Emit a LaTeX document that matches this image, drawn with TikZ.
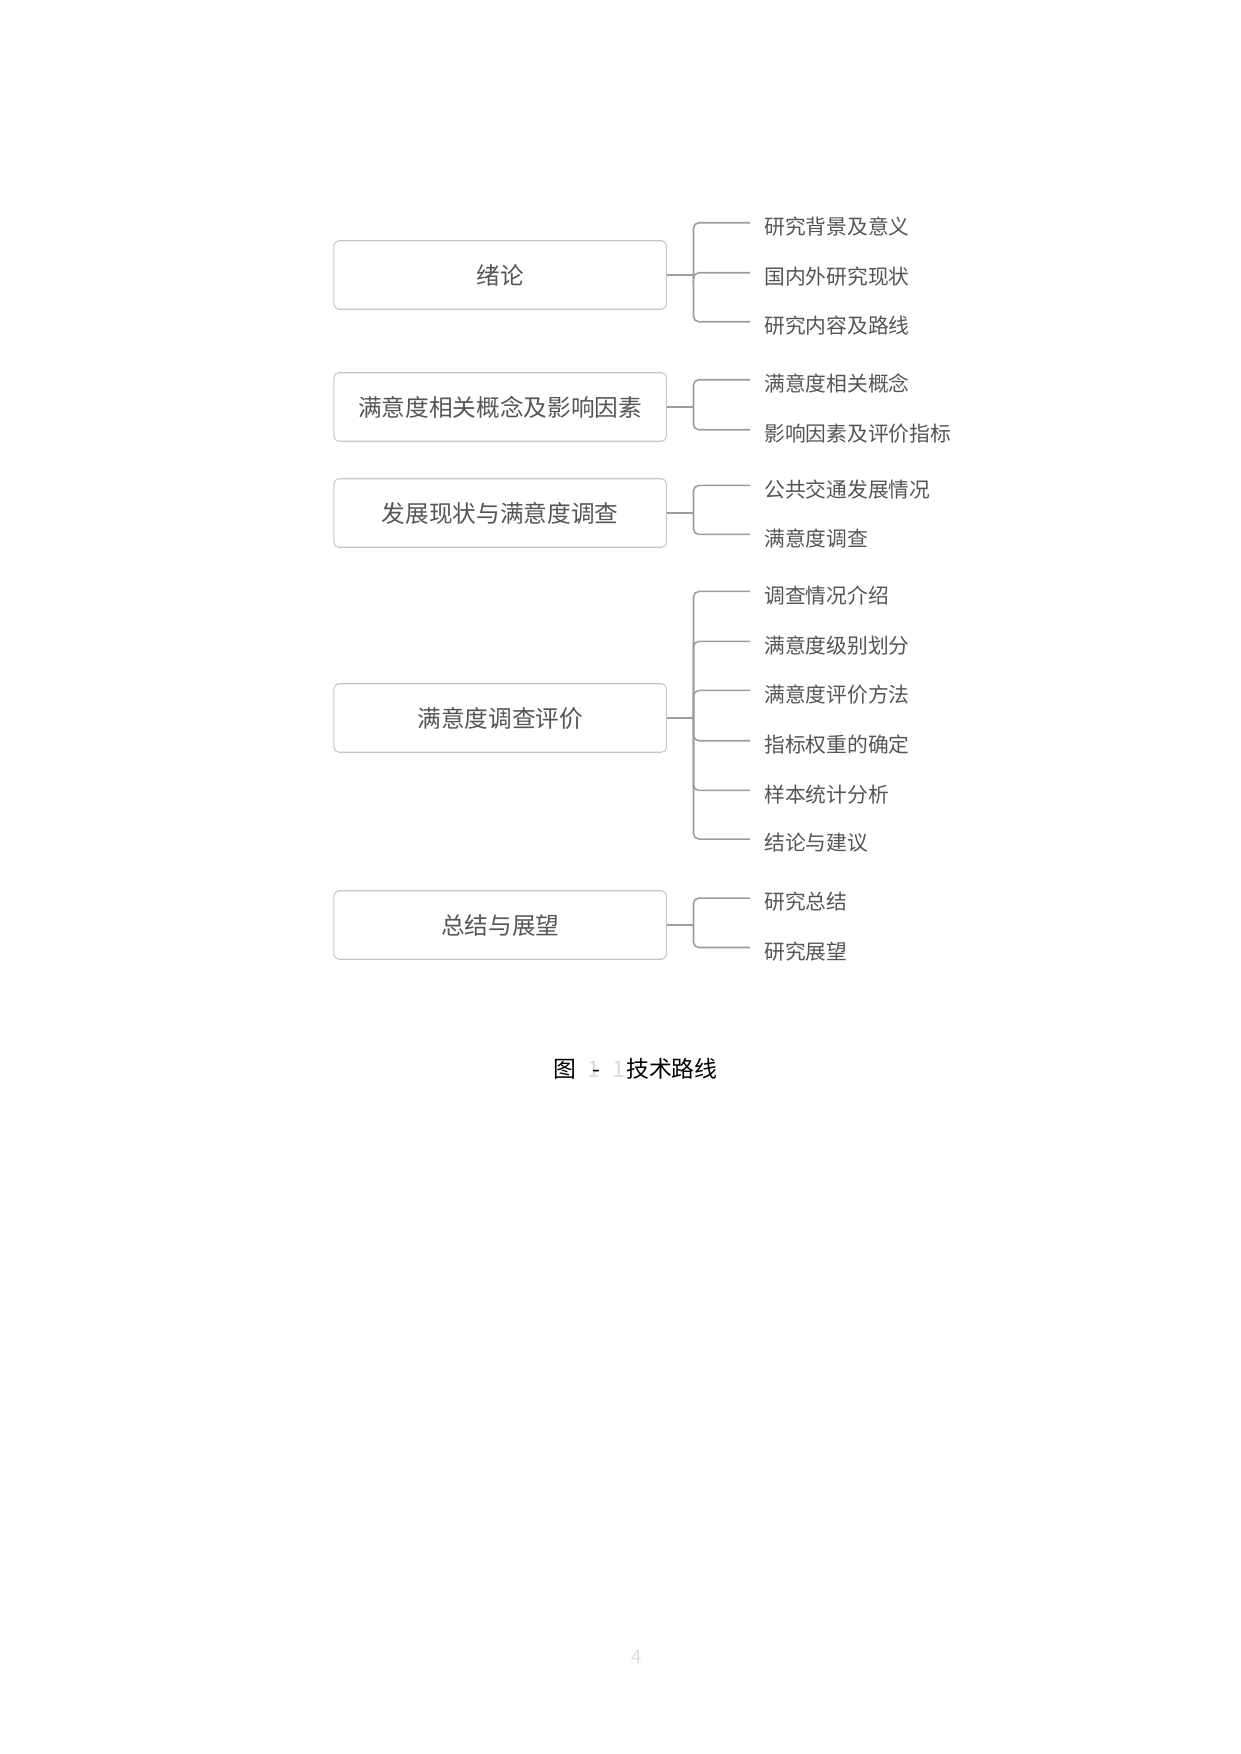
\documentclass[tikz,border=0pt]{standalone}
\usepackage{fontspec}
\setmainfont{Noto Sans CJK SC}
\definecolor{boxgray}{HTML}{C6C6C6}
\definecolor{linegray}{HTML}{9C9C9C}
\definecolor{txtgray}{HTML}{555555}
\definecolor{faint}{HTML}{DADADA}
\tikzset{
  pbox/.style={draw=boxgray, line width=0.5pt, rounded corners=2.4pt,
    minimum width=160.2pt, minimum height=33pt, inner sep=0pt,
    text=txtgray, font=\fontsize{11.4}{13}\selectfont},
  cbox/.style={anchor=west, inner xsep=6.7pt, inner ysep=0pt,
    text=txtgray, font=\fontsize{10}{12}\selectfont},
  conn/.style={draw=linegray, line width=0.75pt},
  branch/.style={conn, rounded corners=2.6pt},
  captxt/.style={inner sep=0pt, font=\fontsize{11}{13}\selectfont}
}
\begin{document}
\begin{tikzpicture}[x=0.4818pt,y=-0.4818pt]
\useasboundingbox (0,0) rectangle (1240,1754);

% parent boxes
\node[pbox] (b1) at (500.2,275) {绪论};
\node[pbox] (b2) at (500.2,407) {满意度相关概念及影响因素};
\node[pbox] (b3) at (500.2,513) {发展现状与满意度调查};
\node[pbox] (b4) at (500.2,718) {满意度调查评价};
\node[pbox] (b5) at (500.2,925) {总结与展望};

% children
\node[cbox] (c11) at (750,226.5) {研究背景及意义};
\node[cbox] (c12) at (750,276.5) {国内外研究现状};
\node[cbox] (c13) at (750,325.5) {研究内容及路线};
\node[cbox] (c21) at (750,383.5) {满意度相关概念};
\node[cbox] (c22) at (750,433.5) {影响因素及评价指标};
\node[cbox] (c31) at (750,489.2) {公共交通发展情况};
\node[cbox] (c32) at (750,538.2) {满意度调查};
\node[cbox] (c41) at (750,595.2) {调查情况介绍};
\node[cbox] (c42) at (750,645.2) {满意度级别划分};
\node[cbox] (c43) at (750,694.2) {满意度评价方法};
\node[cbox] (c44) at (750,744.5) {指标权重的确定};
\node[cbox] (c45) at (750,794.2) {样本统计分析};
\node[cbox] (c46) at (750,842.8) {结论与建议};
\node[cbox] (c51) at (750,901.8) {研究总结};
\node[cbox] (c52) at (750,951.2) {研究展望};

% connectors
\draw[conn] (b1.east) -- ++(26.5,0) coordinate (j1);
\draw[conn] (b2.east) -- ++(26.5,0) coordinate (j2);
\draw[conn] (b3.east) -- ++(26.5,0) coordinate (j3);
\draw[conn] (b4.east) -- ++(26.5,0) coordinate (j4);
\draw[conn] (b5.east) -- ++(26.5,0) coordinate (j5);

\foreach \c in {c11,c12,c13} \draw[branch] (j1) |- ([yshift=1.8pt]\c.west);
\foreach \c in {c21,c22} \draw[branch] (j2) |- ([yshift=1.8pt]\c.west);
\foreach \c in {c31,c32} \draw[branch] (j3) |- ([yshift=1.8pt]\c.west);
\foreach \c in {c41,c42,c43,c44,c45,c46} \draw[branch] (j4) |- ([yshift=1.8pt]\c.west);
\foreach \c in {c51,c52} \draw[branch] (j5) |- ([yshift=1.8pt]\c.west);

% caption
\node[captxt, anchor=west] (cap) at (553,1069)
  {图\hspace{5.5pt}{\color{faint}1}\hspace{-3.9pt}-\hspace{5.8pt}{\color{faint}1}\hspace{0.7pt}技术路线};

% page number
\node[inner sep=0pt, text=faint, font=\fontsize{9}{11}\selectfont] (pg) at (637,1657) {4};
\end{tikzpicture}
\end{document}
